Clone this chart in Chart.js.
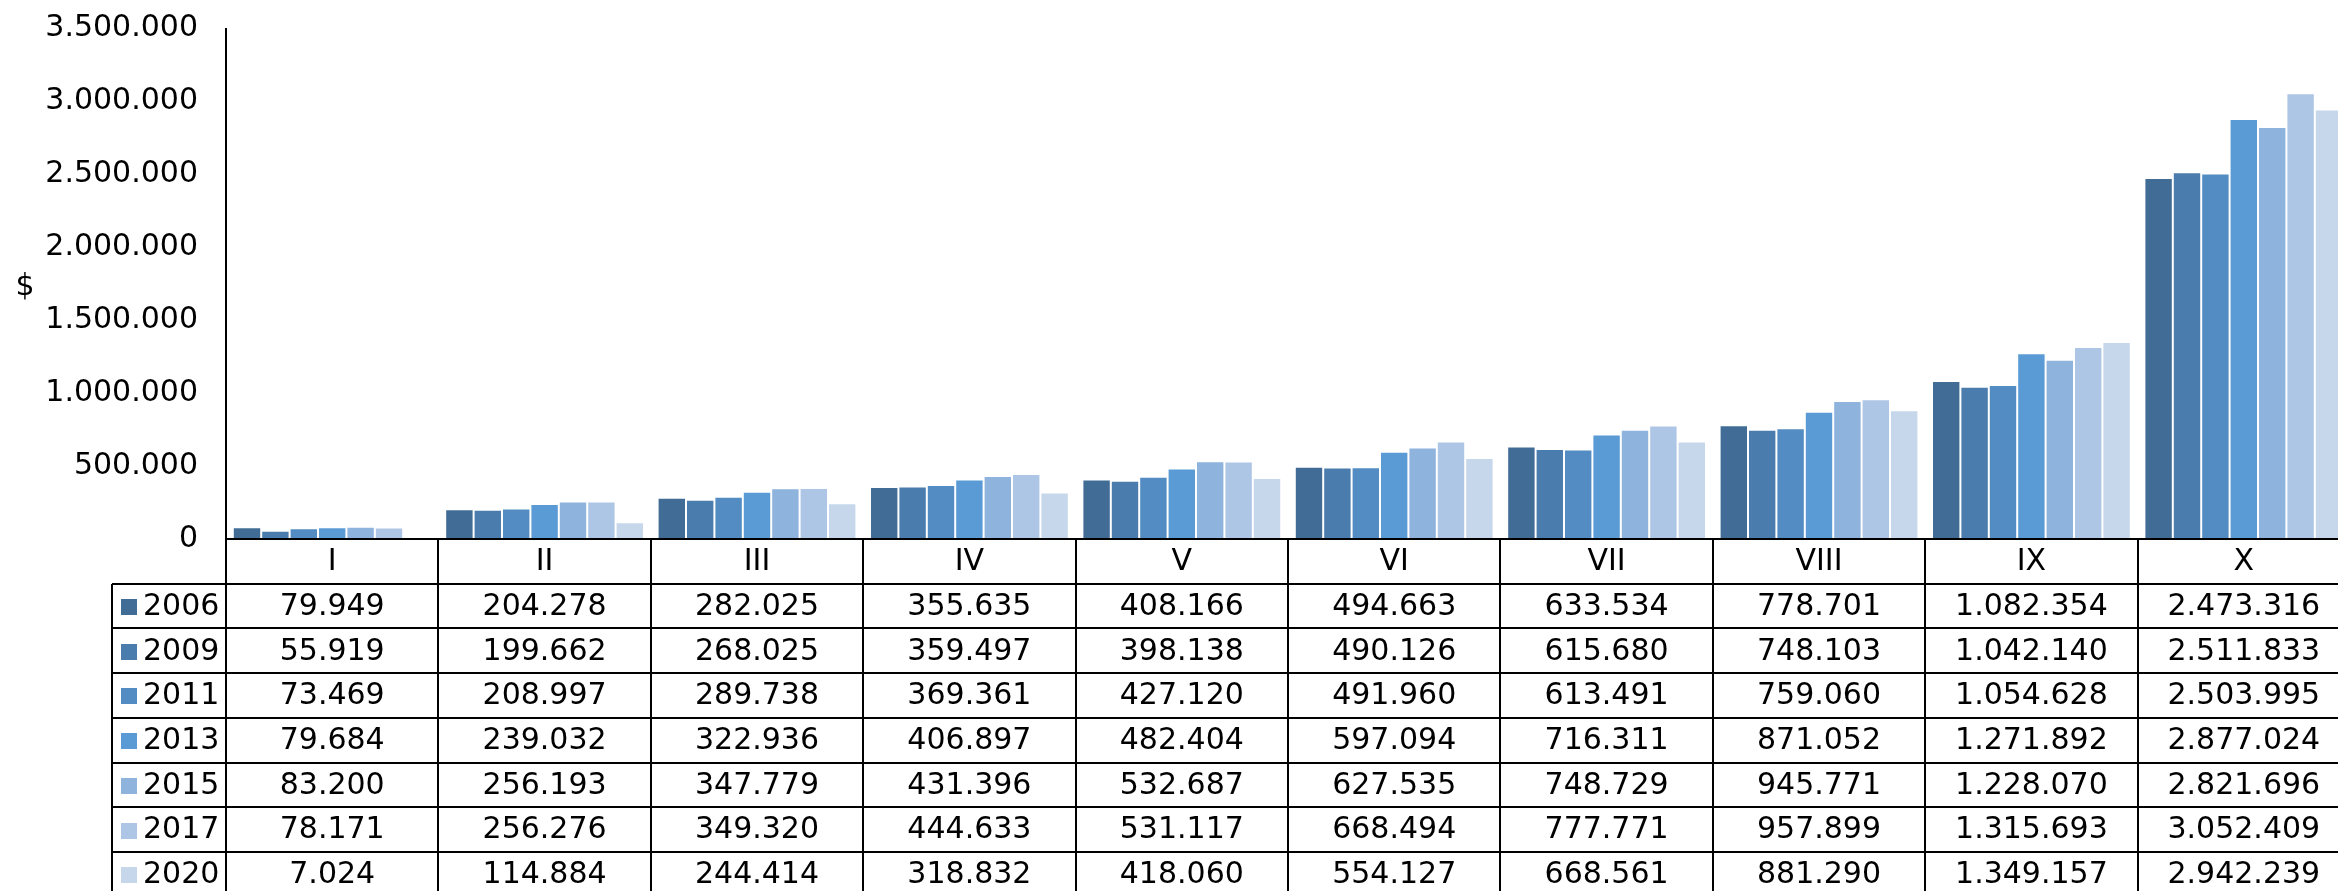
<!DOCTYPE html>
<html>
<head>
<meta charset="utf-8">
<script src="https://cdn.jsdelivr.net/npm/chart.js@4/dist/chart.umd.min.js"></script>
<style>
  html, body { margin: 0; padding: 0; background: #fff; overflow: hidden; }
  #wrap { width: 2338px; height: 891px; overflow: hidden; }
</style>
</head>
<body>
<div id="wrap"><canvas id="chart" width="2360" height="900" style="width:2360px;height:900px"></canvas></div>
<script>
const categories = ['I', 'II', 'III', 'IV', 'V', 'VI', 'VII', 'VIII', 'IX', 'X'];
const years = ['2006', '2009', '2011', '2013', '2015', '2017', '2020'];
const yTicks = [0, 500000, 1000000, 1500000, 2000000, 2500000, 3000000, 3500000];

const v2006 = [79949, 204278, 282025, 355635, 408166, 494663, 633534, 778701, 1082354, 2473316];
const v2009 = [55919, 199662, 268025, 359497, 398138, 490126, 615680, 748103, 1042140, 2511833];
const v2011 = [73469, 208997, 289738, 369361, 427120, 491960, 613491, 759060, 1054628, 2503995];
const v2013 = [79684, 239032, 322936, 406897, 482404, 597094, 716311, 871052, 1271892, 2877024];
const v2015 = [83200, 256193, 347779, 431396, 532687, 627535, 748729, 945771, 1228070, 2821696];
const v2017 = [78171, 256276, 349320, 444633, 531117, 668494, 777771, 957899, 1315693, 3052409];
const v2020 = [7024, 114884, 244414, 318832, 418060, 554127, 668561, 881290, 1349157, 2942239];

const series = [v2006, v2009, v2011, v2013, v2015, v2017, v2020];
const colors = ['#416c96', '#4a7dad', '#528cc2', '#5b9bd5', '#8eb3dd', '#adc6e5', '#c6d7ec'];

const FONT = '"DejaVu Sans", Verdana, sans-serif';
const FSIZE = 30;

// 1234567 -> "1.234.567"
function fmt(v) {
  return String(Math.round(v)).replace(/\B(?=(\d{3})+(?!\d))/g, '.');
}

const ROW_H = 44.7;

// data table + axis lines under the plot
const tablePlugin = {
  id: 'dataTable',
  afterDraw(chart) {
    const ctx = chart.ctx;
    const area = chart.chartArea;
    const x = chart.scales.x;
    const half = (x.getPixelForValue(1) - x.getPixelForValue(0)) / 2;
    const bottom = chart.height;
    const legendLeft = 112;
    const top = Math.round(area.bottom);
    const left = Math.round(area.left);

    ctx.save();
    ctx.strokeStyle = '#000';
    ctx.lineWidth = 2;

    function line(x1, y1, x2, y2) {
      ctx.beginPath();
      ctx.moveTo(x1, y1);
      ctx.lineTo(x2, y2);
      ctx.stroke();
    }

    // y axis line, down through table
    line(left, Math.round(area.top), left, bottom);
    // zero line / header top
    line(left, top, chart.width, top);

    // row lines
    for (let r = 1; r <= years.length + 1; r++) {
      const y = Math.round(top + r * ROW_H);
      line(legendLeft, y, chart.width, y);
    }

    // legend column left border
    line(legendLeft, Math.round(top + ROW_H), legendLeft, bottom);

    // category dividers
    categories.forEach((c, i) => {
      const right = Math.round(x.getPixelForValue(i) + half);
      line(right, top, right, bottom);
    });

    ctx.fillStyle = '#000';
    ctx.font = FSIZE + 'px ' + FONT;
    ctx.textBaseline = 'middle';

    // header
    ctx.textAlign = 'center';
    categories.forEach((c, i) => {
      ctx.fillText(c, x.getPixelForValue(i), top + ROW_H / 2 + 1);
    });

    // rows
    years.forEach((yr, r) => {
      const cy = top + (r + 1.5) * ROW_H + 1;
      ctx.fillStyle = colors[r];
      ctx.fillRect(121, Math.round(cy - 8), 16, 16);
      ctx.fillStyle = '#000';
      ctx.textAlign = 'left';
      ctx.fillText(yr, 143, cy);
      ctx.textAlign = 'center';
      series[r].forEach((v, i) => {
        ctx.fillText(fmt(v), x.getPixelForValue(i), cy);
      });
    });

    // axis title
    ctx.textAlign = 'center';
    ctx.fillText('$', 25, 287);
    ctx.restore();
  }
};

new Chart(document.getElementById('chart'), {
  type: 'bar',
  data: {
    labels: categories,
    datasets: years.map((yr, k) => ({
      label: yr,
      data: series[k],
      backgroundColor: colors[k],
      borderColor: 'rgba(255,255,255,0.45)',
      borderWidth: 1,
      borderSkipped: 'bottom',
      categoryPercentage: 0.936,
      barPercentage: 1
    }))
  },
  options: {
    responsive: false,
    animation: false,
    devicePixelRatio: 1,
    layout: { padding: { top: 28, right: 10, left: 0, bottom: 0 } },
    plugins: {
      legend: { display: false },
      tooltip: { enabled: false }
    },
    scales: {
      x: {
        grid: { display: false },
        border: { display: false },
        ticks: { display: false },
        afterFit: s => { s.height = 361; s.paddingLeft = 0; s.paddingRight = 0; }
      },
      y: {
        min: 0,
        max: 3500000,
        grid: { display: false },
        border: { display: false },
        afterFit: s => { s.width = 226; s.paddingTop = 0; s.paddingBottom = 0; },
        afterBuildTicks: s => { s.ticks = yTicks.map(v => ({ value: v })); },
        ticks: {
          padding: 20,
          color: '#000',
          font: { family: FONT, size: FSIZE },
          callback: v => fmt(v)
        }
      }
    }
  },
  plugins: [tablePlugin]
});
</script>
</body>
</html>
